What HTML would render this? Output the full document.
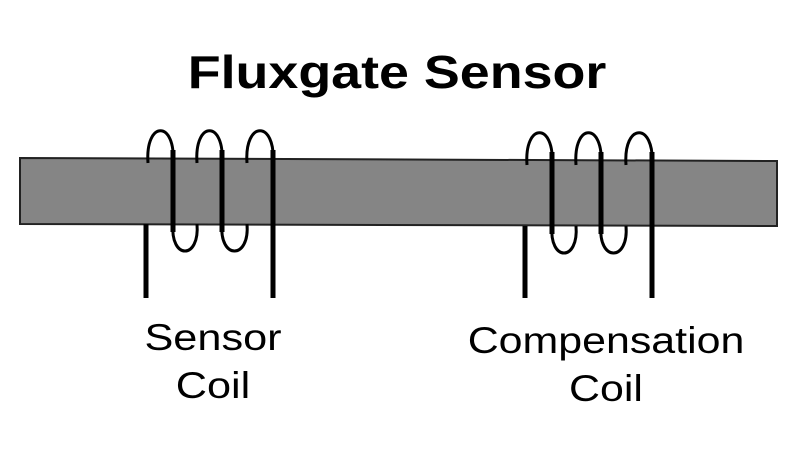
<!DOCTYPE html>
<html><head><style>body{margin:0;background:#fff}</style></head><body>
<svg width="800" height="450" xmlns="http://www.w3.org/2000/svg">
<rect width="800" height="450" fill="#fff"/>
<text transform="translate(397,88) scale(1.17,1)" text-anchor="middle" font-family="Liberation Sans, sans-serif" font-weight="bold" font-size="46" fill="#000">Fluxgate Sensor</text>
<polygon points="20,158 777,161 777,226 20,224" fill="#858585" stroke="#222" stroke-width="2"/>
<g fill="none" stroke="#000" stroke-linecap="butt">
<g>
<line x1="146" y1="224" x2="146" y2="298" stroke-width="5"/>
<path d="M148,163 C145,120 176,120 173,163" stroke-width="3"/>
<path d="M173,224 C170,260 200,260 197,224" stroke-width="3"/>
<path d="M197,163 C194,120 225,120 222,163" stroke-width="3"/>
<path d="M222,224 C219,260 250,260 247,224" stroke-width="3"/>
<path d="M247,163 C244,120 276,120 273,163" stroke-width="3"/>
<line x1="173" y1="150" x2="173" y2="232" stroke-width="5"/>
<line x1="222" y1="150" x2="222" y2="232" stroke-width="5"/>
<line x1="273" y1="150" x2="273" y2="298" stroke-width="5"/>
</g>
<g transform="translate(379,4)">
<line x1="146" y1="222" x2="146" y2="294" stroke-width="5"/>
<path d="M148,161 C145,118 176,118 173,161" stroke-width="3"/>
<path d="M173,222 C170,258 200,258 197,222" stroke-width="3"/>
<path d="M197,161 C194,118 225,118 222,161" stroke-width="3"/>
<path d="M222,222 C219,258 250,258 247,222" stroke-width="3"/>
<path d="M247,161 C244,118 276,118 273,161" stroke-width="3"/>
<line x1="173" y1="148" x2="173" y2="230" stroke-width="5"/>
<line x1="222" y1="148" x2="222" y2="230" stroke-width="5"/>
<line x1="273" y1="148" x2="273" y2="294" stroke-width="5"/>
</g>
</g>
<g font-family="Liberation Sans, sans-serif" font-size="37" fill="#000" text-anchor="middle">
<text transform="translate(213,350) scale(1.17,1)">Sensor</text>
<text transform="translate(213,398) scale(1.17,1)">Coil</text>
<text transform="translate(606,353) scale(1.16,1)">Compensation</text>
<text transform="translate(606,401) scale(1.16,1)">Coil</text>
</g>
</svg>
</body></html>
